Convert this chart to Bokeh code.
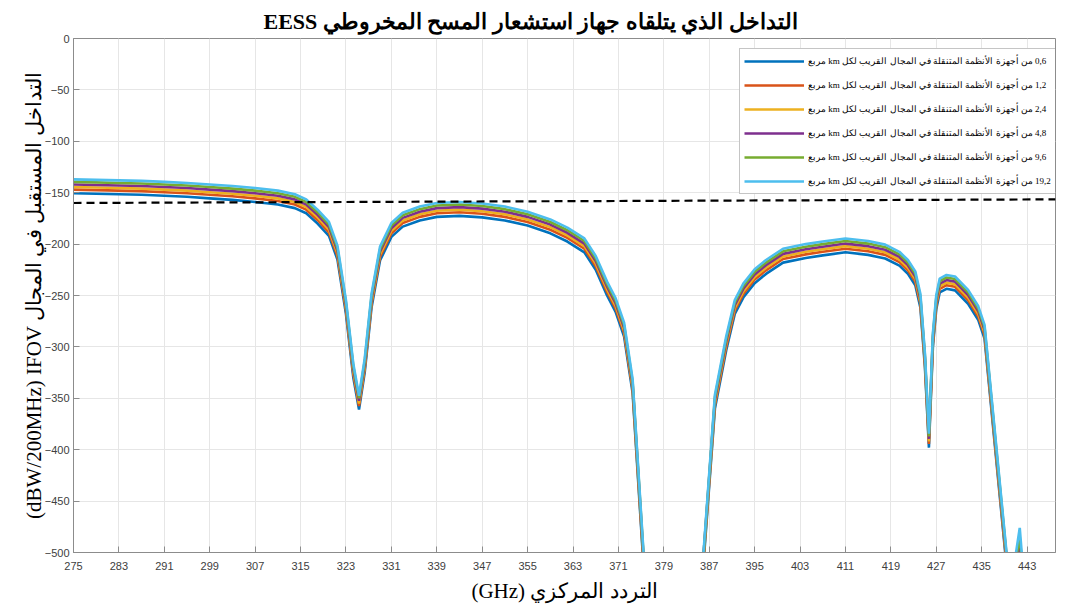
from bokeh.plotting import figure
from bokeh.models import Range1d, FixedTicker, Legend, LegendItem
from bokeh.embed import file_html
from bokeh.resources import INLINE

# ---------------- data ----------------
FREQ_GHZ = [275, 279, 283, 287, 291, 295, 299, 303, 307, 311,
            314, 316, 318, 320, 321.5, 323, 324.3, 325.3, 326.3, 327.5,
            329, 331, 333, 336, 339, 343, 347, 351, 355, 359,
            362, 365, 367, 369, 370.5, 372, 373.5, 375.5, 377, 384,
            386, 388, 390, 391.5, 393, 395, 397, 400, 404, 407,
            411, 415, 418, 420.5, 422, 423.3, 424.2, 425, 425.7, 426.4,
            427, 427.6, 428.8, 430.3, 432.6, 434.4, 435.5, 439.4, 440.2, 441.7, 442.5]

S_0_6 = [-150.5, -151.0, -151.5, -152.0, -153.0, -154.0, -155.5, -157.0, -159.0, -161.5,
         -165.0, -170.0, -180.0, -192.0, -215.0, -268.0, -330.0, -361.0, -325.0, -262.0,
         -216.0, -193.0, -183.0, -177.0, -173.5, -172.5, -174.0, -177.0, -182.0, -189.5,
         -197.5, -208.0, -225.0, -250.0, -266.0, -290.0, -345.0, -520.0, -560.0, -560.0,
         -510.0, -360.0, -303.0, -268.0, -252.0, -238.0, -229.0, -218.0, -213.5, -211.0,
         -208.0, -210.5, -214.0, -221.0, -229.0, -240.0, -262.0, -320.0, -398.0, -300.0,
         -263.0, -247.0, -243.5, -245.0, -258.0, -274.0, -292.0, -515.0, -545.0, -499.0, -545.0]

S_1_2 = [-147.0, -147.5, -148.0, -148.5, -149.5, -150.5, -152.0, -153.5, -155.5, -158.0,
         -161.5, -166.5, -176.5, -188.5, -211.5, -264.5, -326.5, -357.5, -321.5, -258.5,
         -212.5, -189.5, -179.5, -173.5, -170.0, -169.0, -170.5, -173.5, -178.5, -186.0,
         -194.0, -204.5, -221.5, -246.5, -262.5, -286.5, -341.5, -516.5, -556.5, -556.5,
         -506.5, -356.5, -299.5, -264.5, -248.5, -234.5, -225.5, -214.5, -210.0, -207.5,
         -204.5, -207.0, -210.5, -217.5, -225.5, -236.5, -258.5, -316.5, -394.5, -296.5,
         -259.5, -243.5, -240.0, -241.5, -254.5, -270.5, -288.5, -511.5, -541.5, -495.0, -541.5]

S_2_4 = [-144.5, -145.0, -145.5, -146.0, -147.0, -148.0, -149.5, -151.0, -153.0, -155.5,
         -159.0, -164.0, -174.0, -186.0, -209.0, -262.0, -324.0, -355.0, -319.0, -256.0,
         -210.0, -187.0, -177.0, -171.0, -167.5, -166.5, -168.0, -171.0, -176.0, -183.5,
         -191.5, -202.0, -219.0, -244.0, -260.0, -284.0, -339.0, -514.0, -554.0, -554.0,
         -504.0, -354.0, -297.0, -262.0, -246.0, -232.0, -223.0, -212.0, -207.5, -205.0,
         -202.0, -204.5, -208.0, -215.0, -223.0, -234.0, -256.0, -314.0, -392.0, -294.0,
         -257.0, -241.0, -237.5, -239.0, -252.0, -268.0, -286.0, -509.0, -539.0, -492.0, -539.0]

S_4_8 = [-142.0, -142.5, -143.0, -143.5, -144.5, -145.5, -147.0, -148.5, -150.5, -153.0,
         -156.5, -161.5, -171.5, -183.5, -206.5, -259.5, -321.5, -352.5, -316.5, -253.5,
         -207.5, -184.5, -174.5, -168.5, -165.0, -164.0, -165.5, -168.5, -173.5, -181.0,
         -189.0, -199.5, -216.5, -241.5, -257.5, -281.5, -336.5, -511.5, -551.5, -551.5,
         -501.5, -351.5, -294.5, -259.5, -243.5, -229.5, -220.5, -209.5, -205.0, -202.5,
         -199.5, -202.0, -205.5, -212.5, -220.5, -231.5, -253.5, -311.5, -389.5, -291.5,
         -254.5, -238.5, -235.0, -236.5, -249.5, -265.5, -283.5, -506.5, -536.5, -489.0, -536.5]

S_9_6 = [-139.5, -140.0, -140.5, -141.0, -142.0, -143.0, -144.5, -146.0, -148.0, -150.5,
         -154.0, -159.0, -169.0, -181.0, -204.0, -257.0, -319.0, -350.0, -314.0, -251.0,
         -205.0, -182.0, -172.0, -166.0, -162.5, -161.5, -163.0, -166.0, -171.0, -178.5,
         -186.5, -197.0, -214.0, -239.0, -255.0, -279.0, -334.0, -509.0, -549.0, -549.0,
         -502.0, -349.0, -292.0, -257.0, -241.0, -227.0, -218.0, -207.0, -202.5, -200.0,
         -197.0, -199.5, -203.0, -210.0, -218.0, -229.0, -251.0, -309.0, -387.0, -289.0,
         -252.0, -236.0, -232.5, -234.0, -247.0, -263.0, -281.0, -504.0, -534.0, -485.0, -534.0]

S_19_2 = [-137.0, -137.5, -138.0, -138.5, -139.5, -140.5, -142.0, -143.5, -145.5, -148.0,
          -151.5, -156.5, -166.5, -178.5, -201.5, -254.5, -316.5, -347.5, -311.5, -248.5,
          -202.5, -179.5, -169.5, -163.5, -160.0, -159.0, -160.5, -163.5, -168.5, -176.0,
          -184.0, -194.5, -211.5, -236.5, -252.5, -276.5, -331.5, -506.5, -546.5, -546.5,
          -499.0, -346.5, -289.5, -254.5, -238.5, -224.5, -215.5, -204.5, -200.0, -197.5,
          -194.5, -197.0, -200.5, -207.5, -215.5, -226.5, -248.5, -306.5, -384.5, -286.5,
          -249.5, -233.5, -230.0, -231.5, -244.5, -260.5, -278.5, -501.5, -531.5, -476.0, -531.5]

SERIES = [S_0_6, S_1_2, S_2_4, S_4_8, S_9_6, S_19_2]
DENSITIES = ["0,6", "1,2", "2,4", "4,8", "9,6", "19,2"]
LEGEND_TEXT = " من أجهزة الأنظمة المتنقلة في المجال القريب لكل km مربع"
COLORS = ["#0072BD", "#D95319", "#EDB120", "#7E2F8E", "#77AC30", "#4DBEEE"]

THRESH_X = [275, 448]
THRESH_Y = [-160.0, -156.5]

X_TICKS = [275, 283, 291, 299, 307, 315, 323, 331, 339, 347, 355, 363, 371,
           379, 387, 395, 403, 411, 419, 427, 435, 443]
Y_TICKS = [0, -50, -100, -150, -200, -250, -300, -350, -400, -450, -500]

TITLE = "EESS التداخل الذي يتلقاه جهاز استشعار المسح المخروطي"
X_LABEL = "(GHz) التردد المركزي"
Y_LABEL = "(dBW/200MHz) IFOV التداخل المستقبل في المجال"

SERIF = "Liberation Serif, DejaVu Serif, serif"
SANS = "Liberation Sans, Arial, sans-serif"

# ---------------- figure ----------------
p = figure(width=1065, height=610, output_backend="svg", toolbar_location=None,
           x_range=Range1d(275, 448), y_range=Range1d(-500, 0),
           min_border_left=73, min_border_right=10, min_border_top=38, min_border_bottom=58)
p.background_fill_color = "white"
p.border_fill_color = "white"
p.outline_line_color = "#8c8c8c"
p.outline_line_width = 1

p.title.text = TITLE
p.title.align = "left"
p.title.offset = 190
p.title.text_font = SERIF
p.title.text_font_size = "22px"
p.title.text_font_style = "bold"
p.title.text_color = "black"

for ax in (p.xaxis[0], p.yaxis[0]):
    ax.axis_line_color = "#8c8c8c"
    ax.major_tick_line_color = "#8c8c8c"
    ax.major_tick_in = 6
    ax.major_tick_out = 0
    ax.minor_tick_line_color = None
    ax.major_label_text_font = SANS
    ax.major_label_text_font_size = "11px"
    ax.major_label_text_color = "#404040"
    ax.axis_label_text_font = SERIF
    ax.axis_label_text_font_size = "21px"
    ax.axis_label_text_font_style = "normal"
    ax.axis_label_text_color = "black"

p.xaxis.ticker = FixedTicker(ticks=X_TICKS)
p.yaxis.ticker = FixedTicker(ticks=Y_TICKS)
p.xaxis.axis_label = X_LABEL
p.yaxis.axis_label = Y_LABEL
p.xaxis.major_label_standoff = 9
p.yaxis.major_label_standoff = 4
p.xaxis.axis_label_standoff = 6
p.yaxis.axis_label_standoff = -4

p.xgrid.ticker = FixedTicker(ticks=X_TICKS)
p.ygrid.ticker = FixedTicker(ticks=Y_TICKS)
p.grid.grid_line_color = "#e6e6e6"
p.grid.grid_line_width = 1

items = []
for vals, col, dens in zip(SERIES, COLORS, DENSITIES):
    r = p.line(FREQ_GHZ, vals, line_color=col, line_width=2.6)
    items.append(LegendItem(label="\u202B" + dens + LEGEND_TEXT + "\u202C", renderers=[r]))

p.line(THRESH_X, THRESH_Y, line_color="black", line_width=2.2, line_dash="8 5")

legend = Legend(items=items, location=(666, 358))
legend.label_text_font = SERIF
legend.label_text_font_size = "9px"
legend.label_text_color = "black"
legend.glyph_width = 60
legend.glyph_height = 16
legend.label_height = 16
legend.spacing = 8
legend.padding = 4
legend.margin = 0
legend.label_standoff = 4
legend.border_line_color = "#8c8c8c"
legend.border_line_width = 1
legend.background_fill_color = "white"
legend.background_fill_alpha = 1.0
p.add_layout(legend, "center")

open("out.html", "w").write(file_html(p, INLINE))
